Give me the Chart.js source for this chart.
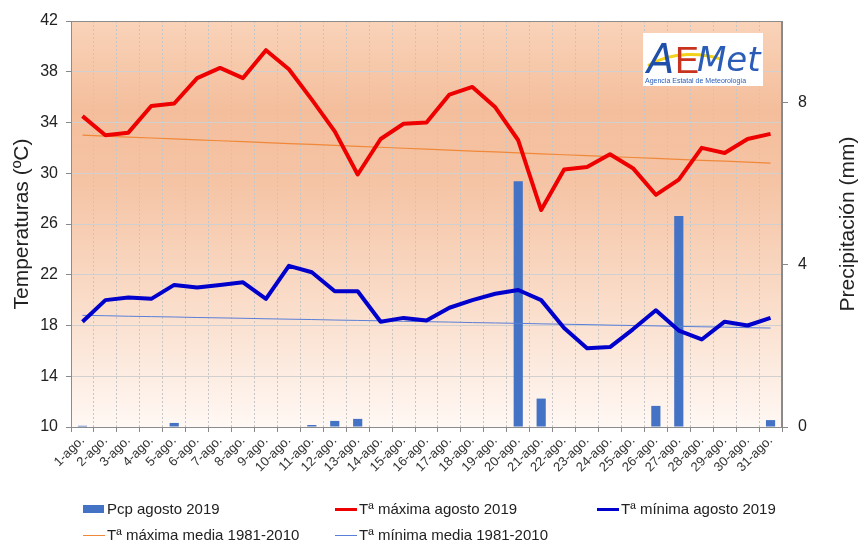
<!DOCTYPE html>
<html><head><meta charset="utf-8">
<script src="https://cdn.jsdelivr.net/npm/chart.js@4.4.1/dist/chart.umd.min.js"></script>
<style>
html,body{margin:0;padding:0;background:#fff;}
#wrap{position:relative;width:859px;height:542px;}
#legend{position:absolute;left:0;top:0;width:859px;height:542px;pointer-events:none;font-family:"Liberation Sans",Arial,sans-serif;font-size:15px;color:#222;}
.li{position:absolute;height:18px;line-height:18px;white-space:nowrap;}
.mk{position:absolute;}
</style></head>
<body><div id="wrap"><canvas id="c" width="859" height="542"></canvas><div id="legend"></div></div>
<script>
const days = ['1-ago.','2-ago.','3-ago.','4-ago.','5-ago.','6-ago.','7-ago.','8-ago.','9-ago.','10-ago.',
  '11-ago.','12-ago.','13-ago.','14-ago.','15-ago.','16-ago.','17-ago.','18-ago.','19-ago.','20-ago.',
  '21-ago.','22-ago.','23-ago.','24-ago.','25-ago.','26-ago.','27-ago.','28-ago.','29-ago.','30-ago.','31-ago.'];
const pcp = [0.03,0,0,0,0.1,0,0,0,0,0,0.05,0.15,0.2,0,0,0,0,0,0,6.05,0.7,0,0,0,0,0.52,5.2,0,0,0,0.17];
const tmax = [34.5,33.0,33.2,35.3,35.5,37.5,38.3,37.5,39.7,38.2,35.8,33.3,29.9,32.7,33.9,34.0,36.2,36.8,35.2,32.6,27.1,30.3,30.5,31.5,30.4,28.3,29.5,32.0,31.6,32.7,33.1];
const tmin = [18.3,20.0,20.2,20.1,21.2,21.0,21.2,21.4,20.1,22.7,22.2,20.7,20.7,18.3,18.6,18.4,19.4,20.0,20.5,20.8,20.0,17.8,16.2,16.3,17.7,19.2,17.6,16.9,18.3,18.0,18.6];
const tmaxMedia = [33.00,32.93,32.85,32.78,32.71,32.63,32.56,32.49,32.41,32.34,32.27,32.19,32.12,32.05,31.97,31.90,31.83,31.75,31.68,31.61,31.53,31.46,31.39,31.31,31.24,31.17,31.09,31.02,30.95,30.87,30.80];
const tminMedia = [18.80,18.77,18.73,18.70,18.67,18.63,18.60,18.57,18.53,18.50,18.47,18.43,18.40,18.37,18.33,18.30,18.27,18.23,18.20,18.17,18.13,18.10,18.07,18.03,18.00,17.97,17.93,17.90,17.87,17.83,17.80];
const tempTicks = [10,14,18,22,26,30,34,38,42];
const pcpTicks = [0,4,8];
const seriesNames = ['Pcp agosto 2019','Tª máxima agosto 2019','Tª mínima agosto 2019','Tª máxima media 1981-2010','Tª mínima media 1981-2010'];
const titleTemp = 'Temperaturas (ºC)';
const titlePcp = 'Precipitación (mm)';

const FONT = '"Liberation Sans", Arial, sans-serif';
Chart.defaults.font.family = FONT;
Chart.defaults.color = '#222';

const COLORS = ['#4472C4','#EE0000','#0000CC','#F0883A','#5A7FD8'];

const deco = {
  id: 'deco',
  beforeDraw(chart) {
    const {ctx, chartArea: a} = chart;
    const g = ctx.createLinearGradient(0, a.top, 0, a.bottom);
    g.addColorStop(0, '#F9D3B9');
    g.addColorStop(0.22, '#F4BE9C');
    g.addColorStop(0.4, '#F5C4A5');
    g.addColorStop(0.7, '#FADDCA');
    g.addColorStop(1, '#FFF8F4');
    ctx.save();
    ctx.fillStyle = g;
    ctx.fillRect(a.left, a.top, a.right - a.left, a.bottom - a.top);
    ctx.restore();
  },
  afterDraw(chart) {
    const {ctx, chartArea: a} = chart;
    ctx.save();
    ctx.strokeStyle = '#8c8c8c';
    ctx.lineWidth = 1;
    ctx.strokeRect(a.left + 0.5, a.top + 0.5, a.right - a.left - 1, a.bottom - a.top);
    ctx.fillStyle = '#222';
    ctx.font = '21px ' + FONT;
    ctx.textAlign = 'center';
    ctx.textBaseline = 'middle';
    const cy = (a.top + a.bottom) / 2;
    ctx.save(); ctx.translate(22, cy); ctx.rotate(-Math.PI / 2); ctx.fillText(titleTemp, 0, 0); ctx.restore();
    ctx.save(); ctx.translate(848, cy); ctx.rotate(-Math.PI / 2); ctx.fillText(titlePcp, 0, 0); ctx.restore();
    // logo
    const lx = a.right - 139, ly = a.top + 12;
    ctx.fillStyle = '#fff';
    ctx.fillRect(lx, ly, 120, 53);
    ctx.strokeStyle = '#F2D21B'; ctx.lineWidth = 3; ctx.lineCap = 'round';
    ctx.beginPath(); ctx.moveTo(lx + 6, ly + 32); ctx.bezierCurveTo(lx + 30, ly + 18, lx + 60, ly + 20, lx + 78, ly + 26); ctx.stroke();
    ctx.textAlign = 'left'; ctx.textBaseline = 'alphabetic';
    ctx.font = 'italic 40px "DejaVu Sans"';
    ctx.fillStyle = '#1F4FA8'; ctx.fillText('A', lx + 4, ly + 40);
    ctx.font = '36px "Liberation Sans"';
    ctx.fillStyle = '#C8321E'; ctx.fillText('E', lx + 32, ly + 40);
    ctx.font = 'italic 34px "DejaVu Sans"';
    ctx.fillStyle = '#2A5CB8'; ctx.fillText('Met', lx + 54, ly + 38);
    ctx.font = '7px "Liberation Sans Narrow", "Liberation Sans"';
    ctx.fillStyle = '#2A5CB8'; ctx.fillText('Agencia Estatal de Meteorología', lx + 2, ly + 50);
    ctx.restore();
  }
};

const chart = new Chart(document.getElementById('c'), {
  type: 'bar',
  data: {
    labels: days,
    datasets: [
      {type:'bar', label:seriesNames[0], data:pcp, yAxisID:'y1', backgroundColor:COLORS[0], barPercentage:0.4, categoryPercentage:1, order:5},
      {type:'line', label:seriesNames[1], data:tmax, yAxisID:'y', borderColor:COLORS[1], borderWidth:4, pointRadius:0, tension:0, borderJoinStyle:'round', order:1},
      {type:'line', label:seriesNames[2], data:tmin, yAxisID:'y', borderColor:COLORS[2], borderWidth:4, pointRadius:0, tension:0, borderJoinStyle:'round', order:2},
      {type:'line', label:seriesNames[3], data:tmaxMedia, yAxisID:'y', borderColor:COLORS[3], borderWidth:1.2, pointRadius:0, tension:0, order:3},
      {type:'line', label:seriesNames[4], data:tminMedia, yAxisID:'y', borderColor:COLORS[4], borderWidth:1, pointRadius:0, tension:0, order:4}
    ]
  },
  options: {
    responsive: false,
    animation: false,
    layout: {padding: {top: 21, left: 0, right: 0, bottom: 0}},
    plugins: {legend: {display: false}, tooltip: {enabled: false}},
    scales: {
      x: {
        offset: true,
        grid: {offset: true, color: '#c6c6c6', tickColor: '#888', tickLength: 5, tickBorderDash: []},
        border: {color: '#888', dash: [2, 2]},
        ticks: {minRotation: 45, maxRotation: 45, autoSkip: false, font: {size: 13}, color: '#333', padding: 1},
        afterFit(s) { s.height = 115; }
      },
      y: {
        position: 'left', min: 10, max: 42,
        afterBuildTicks(s) { s.ticks = tempTicks.map(v => ({value: v})); },
        grid: {color: '#d0d0d0', tickColor: '#888', tickLength: 5},
        border: {color: '#888'},
        ticks: {font: {size: 16}, color: '#222', padding: 8},
        afterFit(s) { s.width = 71; }
      },
      y1: {
        position: 'right', min: 0, max: 10,
        afterBuildTicks(s) { s.ticks = pcpTicks.map(v => ({value: v})); },
        grid: {drawOnChartArea: false, tickColor: '#888', tickLength: 6},
        border: {color: '#888'},
        ticks: {font: {size: 16}, color: '#222', padding: 10},
        afterFit(s) { s.width = 77; }
      }
    }
  },
  plugins: [deco]
});

const legend = document.getElementById('legend');
const slots = [[83, 509], [335, 509], [597, 509], [83, 535], [335, 535]];
chart.data.datasets.forEach((ds, i) => {
  const [x, y] = slots[i];
  const mk = document.createElement('div');
  mk.className = 'mk';
  if (ds.type === 'bar') {
    mk.style.cssText = `left:${x}px;top:${y - 4}px;width:21px;height:8px;background:${ds.backgroundColor};`;
  } else {
    const h = ds.borderWidth >= 3 ? 3 : 1;
    mk.style.cssText = `left:${x}px;top:${y - Math.floor(h / 2)}px;width:22px;height:${h}px;background:${ds.borderColor};`;
  }
  legend.appendChild(mk);
  const t = document.createElement('div');
  t.className = 'li';
  t.style.left = (x + 24) + 'px';
  t.style.top = (y - 9) + 'px';
  t.textContent = ds.label;
  legend.appendChild(t);
});
</script>
</body></html>
